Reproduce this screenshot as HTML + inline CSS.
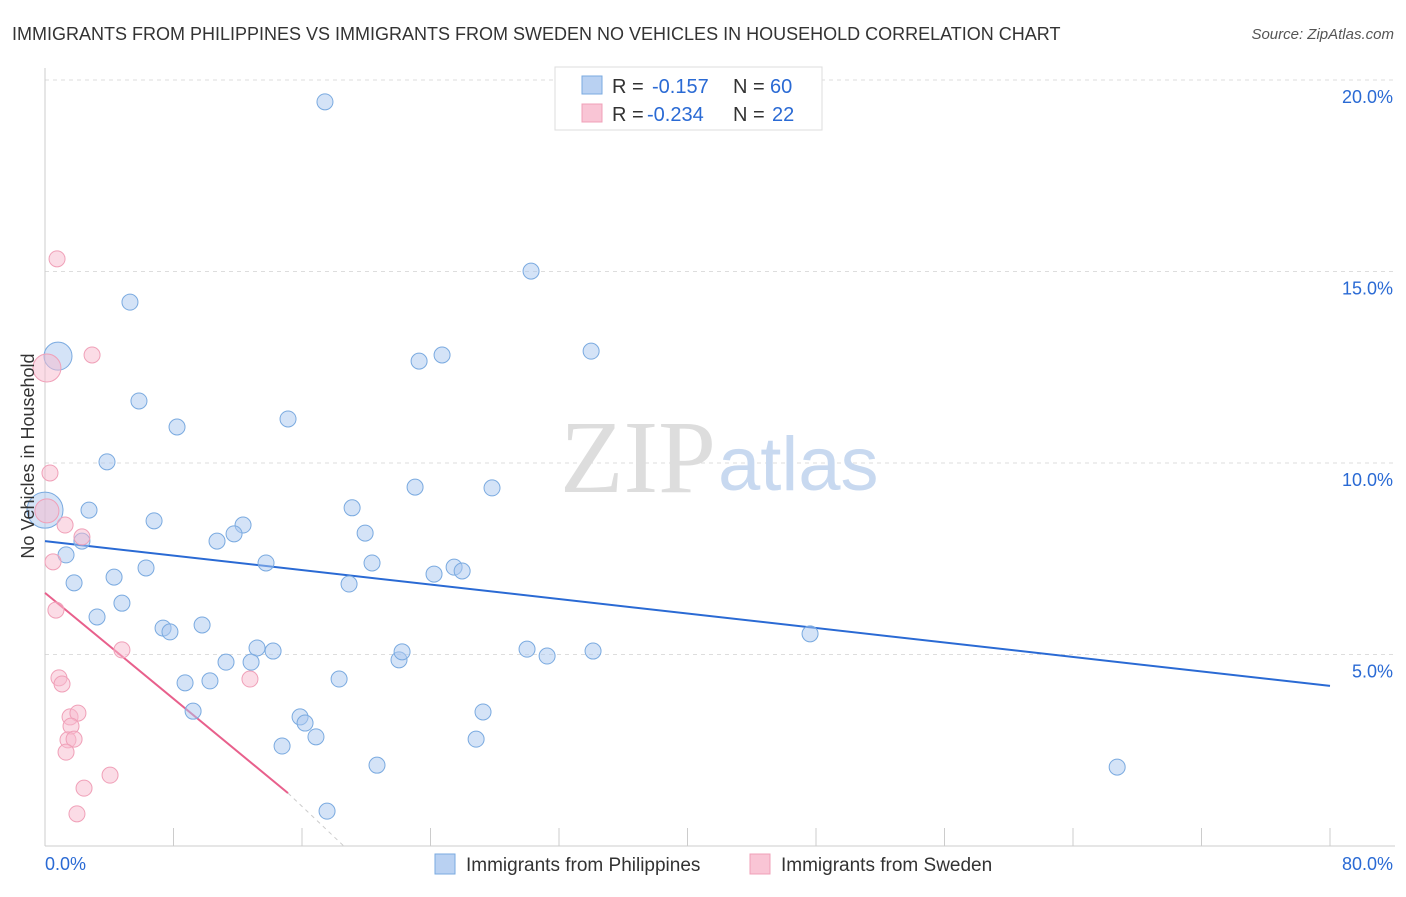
<!DOCTYPE html>
<html><head><meta charset="utf-8"><style>
body{margin:0;background:#fff;font-family:"Liberation Sans",sans-serif;}
svg text{font-family:"Liberation Sans",sans-serif;}
</style></head><body>
<svg id="chart" width="1406" height="892" viewBox="0 0 1406 892" xmlns="http://www.w3.org/2000/svg">
<text x="12" y="40" font-size="18" fill="#333">IMMIGRANTS FROM PHILIPPINES VS IMMIGRANTS FROM SWEDEN NO VEHICLES IN HOUSEHOLD CORRELATION CHART</text>
<text x="1394" y="39" font-size="15" fill="#555" font-style="italic" text-anchor="end">Source: ZipAtlas.com</text>
<g id="grid"></g>
<g id="axes"></g>
<text x="716" y="492" font-size="104" fill="#ddd" text-anchor="end" style="font-family:'Liberation Serif',serif">ZIP</text>
<text x="718" y="490" font-size="76" fill="#c8d9f0">atlas</text>
<g id="lines"></g>
<g id="pts"></g>
<text transform="translate(34,456) rotate(-90)" font-size="18" fill="#333" text-anchor="middle">No Vehicles in Household</text>
<g>
<rect x="555" y="67" width="267" height="63" fill="#fff" stroke="#ddd"/>
<rect x="582" y="76" width="20" height="18" fill="#b9d1f2" stroke="#7aaae0"/>
<rect x="582" y="104" width="20" height="18" fill="#f9c5d5" stroke="#f0a0b8"/>
<text x="612" y="93" font-size="20" fill="#333">R =</text>
<text x="652" y="93" font-size="20" fill="#2a6ad4">-0.157</text>
<text x="733" y="93" font-size="20" fill="#333">N =</text>
<text x="770" y="93" font-size="20" fill="#2a6ad4">60</text>
<text x="612" y="121" font-size="20" fill="#333">R =</text>
<text x="647" y="121" font-size="20" fill="#2a6ad4">-0.234</text>
<text x="733" y="121" font-size="20" fill="#333">N =</text>
<text x="772" y="121" font-size="20" fill="#2a6ad4">22</text>
</g>
<g>
<rect x="435" y="854" width="20" height="20" fill="#b9d1f2" stroke="#7aaae0"/>
<text x="466" y="871" font-size="19" fill="#333">Immigrants from Philippines</text>
<rect x="750" y="854" width="20" height="20" fill="#f9c5d5" stroke="#f0a0b8"/>
<text x="781" y="871" font-size="19" fill="#333">Immigrants from Sweden</text>
</g>
</svg>
<script>
const blueX=[17.43,30.26,5.29,0.81,23.29,24.72,34.0,5.85,8.22,15.13,3.86,0,2.74,6.79,12.33,10.71,11.77,2.30,1.31,19.12,23.04,27.83,19.93,4.30,6.29,1.81,13.76,20.36,18.93,24.22,25.47,25.97,4.79,3.24,7.35,7.78,9.78,13.2,14.2,11.27,12.83,22.04,22.23,30.01,31.26,34.12,47.63,8.72,10.27,18.31,9.22,15.88,16.19,16.87,27.27,26.84,14.76,20.67,66.75,17.56];
const blueY=[19.43,15.01,14.20,12.79,12.66,12.82,12.92,11.62,10.94,11.15,10.03,8.77,8.77,8.49,8.38,7.96,8.15,7.96,7.60,8.83,9.37,9.35,8.17,7.02,7.26,6.87,7.39,7.39,6.84,7.10,7.28,7.18,6.34,5.98,5.69,5.59,5.77,5.17,5.09,4.80,4.80,4.86,5.07,5.14,4.96,5.09,5.54,4.26,4.31,4.36,3.52,3.37,3.21,2.85,3.50,2.79,2.61,2.11,2.06,0.91];
const blueSize=[8,8,8,14,8,8,8,8,8,8,8,18,8,8,8,8,8,8,8,8,8,8,8,8,8,8,8,8,8,8,8,8,8,8,8,8,8,8,8,8,8,8,8,8,8,8,8,8,8,8,8,8,8,8,8,8,8,8,8,8];
const pinkX=[0.75,2.93,0.12,0.31,0.12,1.25,2.30,0.50,0.68,4.79,12.76,0.87,1.06,1.56,2.05,1.62,1.43,1.81,1.31,4.05,2.43,1.99];
const pinkY=[15.33,12.82,12.48,9.74,8.75,8.38,8.07,7.42,6.16,5.12,4.36,4.39,4.23,3.37,3.47,3.13,2.77,2.79,2.45,1.85,1.51,0.84];
const pinkSize=[8,8,14,8,12,8,8,8,8,8,8,8,8,8,8,8,8,8,8,8,8,8];
const blueTrendX=[0,80], blueTrendY=[7.96,4.18];
const pinkTrendX=[0,15.13], pinkTrendY=[6.61,1.38];
const pinkDashX=[15.13,18.6], pinkDashY=[1.38,0];
const yTicks=[5,10,15,20], yTickLabels=["5.0%","10.0%","15.0%","20.0%"];
const xTicks=[0,8,16,24,32,40,48,56,64,72,80];
const NS="http://www.w3.org/2000/svg";
const sx=v=>45+v*(1285/80), sy=v=>846-v*38.3;
function mk(tag,attrs,parent){const e=document.createElementNS(NS,tag);for(const k in attrs)e.setAttribute(k,attrs[k]);parent.appendChild(e);return e;}
const gridG=document.getElementById('grid'),axesG=document.getElementById('axes'),linesG=document.getElementById('lines'),ptsG=document.getElementById('pts');
yTicks.forEach((t,i)=>{
 const l=mk('line',{x1:45,x2:1395,y1:sy(t),y2:sy(t),stroke:'#ddd','stroke-dasharray':'4,4'},gridG);
 
 
 const tx=mk('text',{x:1393,y:sy(t)+23,'font-size':18,fill:'#2a6ad4','text-anchor':'end'},axesG);
 tx.textContent=yTickLabels[i];
 
 
});
const topGrid=mk('line',{x1:45,x2:1395,y1:80,y2:80,stroke:'#ddd','stroke-dasharray':'4,4'},gridG);


const yAxisLine=mk('line',{x1:45,x2:45,y1:68,y2:846,stroke:'#ccc'},axesG);


const xAxisLine=mk('line',{x1:45,x2:1395,y1:846,y2:846,stroke:'#ccc'},axesG);


xTicks.forEach(t=>{
 const l=mk('line',{x1:sx(t),x2:sx(t),y1:828,y2:846,stroke:'#ccc'},axesG);
 
 
});
const xMinLbl=mk('text',{x:45,y:870,'font-size':18,fill:'#2a6ad4'},axesG);xMinLbl.textContent='0.0%';


const xMaxLbl=mk('text',{x:1393,y:870,'font-size':18,fill:'#2a6ad4','text-anchor':'end'},axesG);xMaxLbl.textContent='80.0%';


blueX.forEach((v,i)=>{
 const c=mk('circle',{cx:sx(v),cy:sy(blueY[i]),r:blueSize[i],fill:'rgba(170,200,240,0.5)',stroke:'#7aaae0','stroke-width':1},ptsG);
 
 
});
pinkX.forEach((v,i)=>{
 const c=mk('circle',{cx:sx(v),cy:sy(pinkY[i]),r:pinkSize[i],fill:'rgba(248,185,205,0.5)',stroke:'#f0a0b8','stroke-width':1},ptsG);
 
 
});
const bl=mk('line',{x1:sx(blueTrendX[0]),y1:sy(blueTrendY[0]),x2:sx(blueTrendX[1]),y2:sy(blueTrendY[1]),stroke:'#2a6ad4','stroke-width':2},linesG);


const pl=mk('line',{x1:sx(pinkTrendX[0]),y1:sy(pinkTrendY[0]),x2:sx(pinkTrendX[1]),y2:sy(pinkTrendY[1]),stroke:'#e8608c','stroke-width':2},linesG);


const pd=mk('line',{x1:sx(pinkDashX[0]),y1:sy(pinkDashY[0]),x2:sx(pinkDashX[1]),y2:sy(pinkDashY[1]),stroke:'#ccc','stroke-width':1,'stroke-dasharray':'4,4'},linesG);


</script>
</body></html>
